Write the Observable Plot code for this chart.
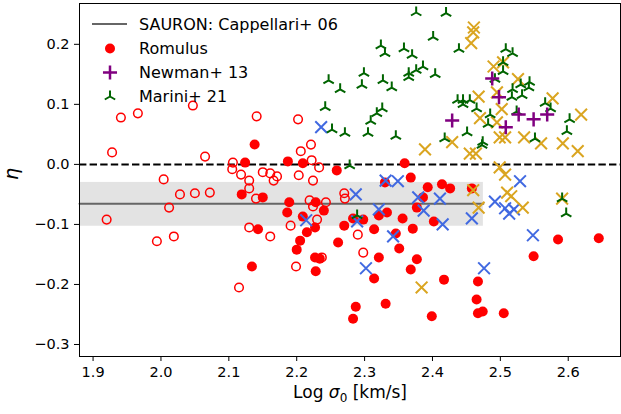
<!DOCTYPE html>
<html>
<head>
<meta charset="utf-8">
<script src="https://cdn.jsdelivr.net/npm/d3@7"></script>
<script src="https://cdn.jsdelivr.net/npm/@observablehq/plot@0.6"></script>
<style>
  html, body { margin: 0; padding: 0; background: #fff; }
  #wrap { position: relative; width: 621px; height: 414px; }
  #legend { position: absolute; left: 0; top: 0; pointer-events: none; }
</style>
</head>
<body>
<div id="wrap"></div>
<script>
// ---------- data ----------
const xTicks = [1.9, 2.0, 2.1, 2.2, 2.3, 2.4, 2.5, 2.6];
const yTicks = [-0.3, -0.2, -0.1, 0.0, 0.1, 0.2];
const xLabel = "Log σ0 [km/s]";
const yLabel = "η";

// SAURON: Cappellari+ 06 (mean and band)
const sauronSigma = [1.88, 2.475];
const sauronEta = -0.0655;
const sauronLow = -0.103;
const sauronHigh = -0.030;

// Romulus (filled)
const romulusSigma = [2.138,2.124,2.119,2.143,2.134,2.187,2.209,2.259,2.359,2.368,2.330,2.393,2.150,2.189,2.186,2.228,2.240,2.283,2.298,2.333,2.377,2.209,2.227,2.215,2.205,2.200,2.227,2.234,2.228,2.261,2.270,2.314,2.321,2.356,2.371,2.346,2.351,2.321,2.314,2.377,2.368,2.287,2.283,2.331,2.414,2.426,2.458,2.386,2.402,2.585,2.645,2.549,2.417,2.467,2.465,2.467,2.474,2.505,2.399];
const romulusEta   = [0.033,0.003,-0.050,-0.108,-0.170,0.005,0.002,-0.010,0.002,-0.022,-0.030,-0.038,-0.055,-0.063,-0.080,-0.063,-0.077,-0.090,-0.092,-0.080,-0.072,-0.087,-0.105,-0.113,-0.127,-0.142,-0.155,-0.157,-0.178,-0.130,-0.102,-0.108,-0.085,-0.090,-0.107,-0.115,-0.140,-0.155,-0.190,-0.158,-0.175,-0.237,-0.257,-0.232,-0.033,-0.040,-0.040,-0.055,-0.095,-0.125,-0.123,-0.153,-0.192,-0.195,-0.225,-0.248,-0.245,-0.248,-0.253];

// Romulus (open)
const romulusOpenSigma = [1.941,1.966,2.047,2.141,1.928,2.065,2.106,2.105,2.118,2.130,2.004,2.028,2.050,2.072,2.012,2.130,2.140,1.920,1.994,2.019,2.130,2.115,2.202,2.221,2.206,2.222,2.233,2.150,2.161,2.171,2.166,2.203,2.224,2.219,2.224,2.243,2.270,2.271,2.230,2.191,2.161,2.199,2.237,2.290,2.298];
const romulusOpenEta   = [0.078,0.085,0.098,0.080,0.020,0.013,0.003,-0.008,-0.017,-0.027,-0.025,-0.050,-0.048,-0.047,-0.072,-0.040,-0.057,-0.092,-0.128,-0.120,-0.105,-0.205,0.075,0.033,0.022,0.007,-0.005,-0.013,-0.015,-0.020,-0.027,-0.018,-0.027,-0.060,-0.070,-0.063,-0.048,-0.057,-0.092,-0.102,-0.120,-0.170,-0.155,-0.117,-0.147];

// blue crosses
const blueSigma = [2.236,2.331,2.349,2.287,2.379,2.321,2.387,2.214,2.289,2.342,2.302,2.529,2.492,2.507,2.520,2.513,2.411,2.415,2.458,2.548,2.476];
const blueEta   = [0.062,-0.027,-0.028,-0.050,-0.055,-0.075,-0.077,-0.093,-0.095,-0.120,-0.173,-0.028,-0.062,-0.073,-0.075,-0.082,-0.057,-0.100,-0.090,-0.118,-0.173];

// gold crosses
const goldSigma = [2.461,2.460,2.457,2.490,2.504,2.526,2.495,2.468,2.577,2.502,2.619,2.470,2.495,2.535,2.499,2.507,2.429,2.389,2.455,2.464,2.560,2.592,2.614,2.499,2.507,2.510,2.516,2.533,2.468,2.460,2.591,2.384];
const goldEta   = [0.228,0.220,0.202,0.163,0.170,0.142,0.120,0.113,0.110,0.092,0.083,0.077,0.070,0.045,0.045,0.045,0.037,0.025,0.018,0.018,0.035,0.035,0.022,-0.005,-0.017,-0.047,-0.053,-0.072,-0.072,-0.043,-0.057,-0.205];

// Newman+ 13
const newmanSigma = [2.429,2.488,2.498,2.508,2.527,2.549,2.569];
const newmanEta   = [0.073,0.143,0.112,0.062,0.083,0.075,0.083];

// Marini+ 21
const mariniSigma = [2.376,2.324,2.330,2.358,2.370,2.401,2.386,2.376,2.365,2.365,2.247,2.264,2.299,2.296,2.327,2.340,2.242,2.326,2.318,2.309,2.252,2.271,2.305,2.346,2.278,2.289,2.420,2.404,2.439,2.508,2.518,2.504,2.504,2.492,2.518,2.530,2.543,2.542,2.532,2.517,2.437,2.445,2.455,2.445,2.465,2.485,2.524,2.566,2.574,2.602,2.451,2.418,2.474,2.473,2.482,2.551,2.598,2.591,2.597];
const mariniEta   = [0.253,0.198,0.185,0.193,0.182,0.212,0.163,0.157,0.152,0.145,0.140,0.125,0.152,0.132,0.140,0.128,0.095,0.093,0.085,0.072,0.058,0.052,0.052,0.047,-0.002,-0.085,0.252,0.150,0.192,0.192,0.185,0.170,0.155,0.142,0.125,0.133,0.137,0.128,0.115,0.112,0.107,0.107,0.107,0.100,0.093,0.083,0.088,0.102,0.093,0.075,0.053,0.043,0.037,0.032,0.067,0.043,0.055,-0.057,-0.082];

// ---------- build ----------
const zip = (xs, ys) => xs.map((x, i) => ({x, y: ys[i]}));
const romulus = zip(romulusSigma, romulusEta);
const romulusOpen = zip(romulusOpenSigma, romulusOpenEta);
const blue = zip(blueSigma, blueEta);
const gold = zip(goldSigma, goldEta);
const newman = zip(newmanSigma, newmanEta);
const marini = zip(mariniSigma, mariniEta);
const sauronBand = [{x1: sauronSigma[0], x2: sauronSigma[1], y1: sauronLow, y2: sauronHigh}];
const sauronLine = sauronSigma.map(x => ({x, y: sauronEta}));

const RED = "#ff0000", BLUE = "#4169e1", GOLD = "#daa520", PURPLE = "#800080", GREEN = "#006400", GREY = "#666666";

const triUp = {
  draw(ctx, size) {
    const a = Math.sqrt(size / Math.PI);
    ctx.moveTo(0, 0); ctx.lineTo(0, -a);
    ctx.moveTo(0, 0); ctx.lineTo(-0.866 * a, 0.5 * a);
    ctx.moveTo(0, 0); ctx.lineTo(0.866 * a, 0.5 * a);
  }
};
const PLUS_R = 4.6;

const chart = Plot.plot({
  width: 621,
  height: 414,
  marginLeft: 79,
  marginRight: 1,
  marginTop: 3,
  marginBottom: 58,
  x: {domain: [1.88, 2.677]},
  y: {domain: [-0.32, 0.268]},
  style: {fontFamily: "DejaVu Sans", fontSize: "14.5px", color: "#000", background: "#fff"},
  marks: [
    Plot.rect(sauronBand, {x1: "x1", x2: "x2", y1: "y1", y2: "y2", fill: "#e3e3e3"}),
    Plot.line(sauronLine, {x: "x", y: "y", stroke: GREY, strokeWidth: 2}),
    Plot.ruleY([0], {stroke: "#000", strokeWidth: 2, strokeDasharray: "7.4,3.2"}),
    Plot.dot(romulusOpen, {x: "x", y: "y", r: 4.3, fill: "none", stroke: RED, strokeWidth: 1.5}),
    Plot.dot(romulus, {x: "x", y: "y", r: 5, fill: RED, stroke: "none"}),
    Plot.dot(blue, {x: "x", y: "y", r: 5.4, symbol: "times", fill: "none", stroke: BLUE, strokeWidth: 2}),
    Plot.dot(gold, {x: "x", y: "y", r: 5.4, symbol: "times", fill: "none", stroke: GOLD, strokeWidth: 2}),
    Plot.dot(marini, {x: "x", y: "y", r: 6, symbol: triUp, fill: "none", stroke: GREEN, strokeWidth: 2}),
    Plot.dot(newman, {x: "x", y: "y", r: PLUS_R, symbol: "plus", fill: "none", stroke: PURPLE, strokeWidth: 2.5}),
    Plot.axisX({ticks: xTicks, tickFormat: d3.format(".1f"), tickSize: 5, tickPadding: 5, label: null, stroke: "#000"}),
    Plot.axisY({ticks: yTicks, tickFormat: d3.format(".1f"), tickSize: 5, tickPadding: 5, label: null, stroke: "#000"}),
    Plot.frame({stroke: "#000", strokeWidth: 1}),
    Plot.text([xLabel], {frameAnchor: "bottom", dy: 41, text: d => d, fontSize: 17, fill: "#000"}),
    Plot.text([yLabel], {frameAnchor: "left", dx: -68, rotate: -90, text: d => d, fontSize: 19, fontStyle: "italic", fill: "#000"})
  ]
});

const wrap = document.getElementById("wrap");
wrap.appendChild(chart);

// x label: italic sigma with subscript 0
chart.querySelectorAll("text").forEach(t => {
  if (t.textContent === xLabel) {
    t.innerHTML = 'Log <tspan font-style="italic">σ</tspan><tspan font-size="12" dy="4">0</tspan><tspan dy="-4"> [km/s]</tspan>';
  }
});

// ---------- legend ----------
const legendItems = ["SAURON: Cappellari+ 06", "Romulus", "Newman+ 13", "Marini+ 21"];
const lg = d3.select(wrap).append("svg").attr("id", "legend").attr("width", 621).attr("height", 110)
  .style("font-family", "DejaVu Sans").style("font-size", "16px");
const rowY = [24, 48.5, 72.5, 96.5];
const mx = 110;
lg.append("line").attr("x1", 92).attr("x2", 127).attr("y1", rowY[0]).attr("y2", rowY[0]).attr("stroke", GREY).attr("stroke-width", 2);
lg.append("circle").attr("cx", mx).attr("cy", rowY[1]).attr("r", 5).attr("fill", RED);
lg.append("path").attr("transform", `translate(${mx},${rowY[2]})`).attr("d", d3.symbol(d3.symbolPlus, PLUS_R * PLUS_R * Math.PI)()).attr("fill", "none").attr("stroke", PURPLE).attr("stroke-width", 2.5);
lg.append("path").attr("transform", `translate(${mx},${rowY[3]})`).attr("d", d3.symbol(triUp, 6 * 6 * Math.PI)()).attr("fill", "none").attr("stroke", GREEN).attr("stroke-width", 2);
legendItems.forEach((s, i) => {
  lg.append("text").attr("x", 139).attr("y", rowY[i]).attr("dy", "0.35em").attr("fill", "#000").text(s);
});
</script>
</body>
</html>
